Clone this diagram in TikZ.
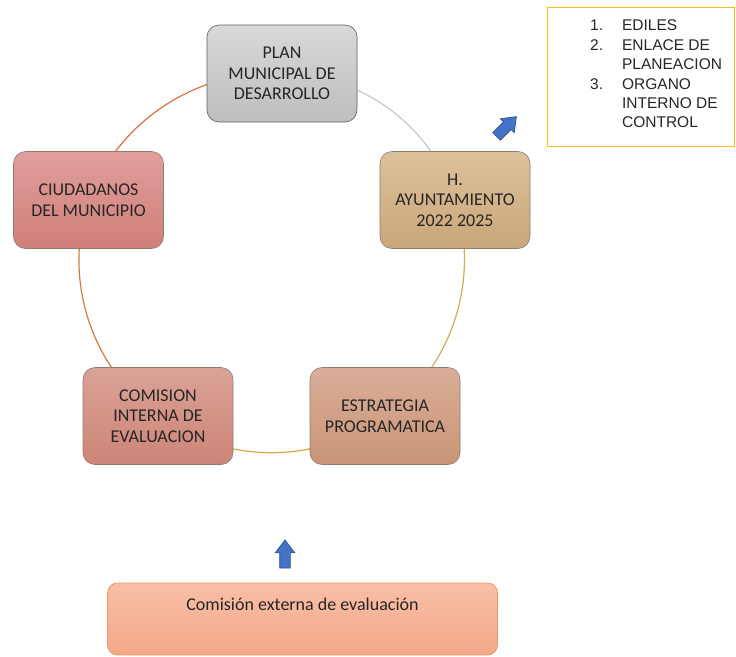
\documentclass[tikz,border=0pt]{standalone}
\usepackage{fontspec}
\setmainfont{Carlito}
\newfontfamily\arialf{Liberation Sans}
\usetikzlibrary{shapes.arrows}
\pgfdeclarelayer{background}
\pgfsetlayers{background,main}
\definecolor{txt}{HTML}{262626}
\definecolor{bluefill}{HTML}{4472C4}
\definecolor{blueline}{HTML}{2F528F}
\definecolor{lgold}{RGB}{250,190,20}
\definecolor{boxline}{RGB}{140,125,115}
\definecolor{planT}{RGB}{216,216,216}\definecolor{planB}{RGB}{190,190,190}
\definecolor{ayunT}{RGB}{221,193,155}\definecolor{ayunB}{RGB}{201,166,121}
\definecolor{estrT}{RGB}{218,174,152}\definecolor{estrB}{RGB}{201,148,118}
\definecolor{comiT}{RGB}{218,162,152}\definecolor{comiB}{RGB}{205,133,118}
\definecolor{ciudT}{RGB}{224,158,155}\definecolor{ciudB}{RGB}{209,127,121}
\definecolor{extT}{RGB}{248,191,166}\definecolor{extB}{RGB}{244,168,138}
\definecolor{extline}{RGB}{240,150,100}
\definecolor{arcA}{RGB}{200,200,200}
\definecolor{arcB}{RGB}{214,170,90}
\definecolor{arcC}{RGB}{216,164,72}
\definecolor{arcD}{RGB}{204,124,66}
\definecolor{arcE}{RGB}{218,114,66}
\tikzset{
  cyclebox/.style={rectangle, rounded corners=12pt, minimum width=150pt, minimum height=97pt,
    draw=boxline, line width=0.6pt, align=center, text=txt, inner sep=2pt,
    font=\fontsize{18}{20.5}\selectfont},
  cyclearc/.style={line width=1.2pt, draw=#1},
  bluearrow/.style={single arrow, draw=blueline, fill=bluefill, line width=0.7pt,
    minimum height=28pt, single arrow head extend=4.5pt,
    single arrow tip angle=75, inner xsep=0pt, inner ysep=5pt},
}
\begin{document}
\begin{tikzpicture}[x=1pt,y=-1pt]
\useasboundingbox (0,0) rectangle (736,656);
% cycle boxes
\node[cyclebox, draw=gray!75!black, top color=planT, bottom color=planB]
  (plan) at (282,73.5) {PLAN\\MUNICIPAL DE\\DESARROLLO};
\node[cyclebox, top color=ayunT, bottom color=ayunB]
  (ayun) at (455,200) {H.\\AYUNTAMIENTO\\2022 2025};
\node[cyclebox, top color=estrT, bottom color=estrB]
  (estr) at (385,416) {ESTRATEGIA\\PROGRAMATICA};
\node[cyclebox, top color=comiT, bottom color=comiB]
  (comi) at (158,416) {COMISION\\INTERNA DE\\EVALUACION};
\node[cyclebox, top color=ciudT, bottom color=ciudB]
  (ciud) at (88.5,200) {CIUDADANOS\\DEL MUNICIPIO};
% cycle arcs (behind the boxes)
\begin{pgfonlayer}{background}
\draw[cyclearc=arcA] (plan.center) to[bend left=36, looseness=0.94] (ayun.center);
\draw[cyclearc=arcB] (ayun.center) to[bend left=36, looseness=0.94] (estr.center);
\draw[cyclearc=arcC] (estr.center) to[bend left=36, looseness=0.94] (comi.center);
\draw[cyclearc=arcD] (comi.center) to[bend left=36, looseness=0.94] (ciud.center);
\draw[cyclearc=arcE] (ciud.center) to[bend left=36, looseness=0.94] (plan.center);
\end{pgfonlayer}
% legend
\node[rectangle, draw=lgold, line width=1.4pt, minimum width=187pt, minimum height=139pt, inner sep=0pt] (legendbox) at (641,77) {};
\node[anchor=north west, inner sep=0pt, text=txt, font=\arialf\fontsize{15.5}{19.4}\selectfont] (legendtext) at (590,17.1)
  {\begin{tabular}{@{}l@{\hspace{19pt}}l@{}}
   1. & EDILES\\
   2. & ENLACE DE\\
      & PLANEACION\\
   3. & ORGANO\\
      & INTERNO DE\\
      & CONTROL
   \end{tabular}};
% blue arrows
\node[bluearrow, rotate=45] (nearrow) at (504,129) {};
\node[bluearrow, rotate=90] (uparrow) at (285,557.5) {};
% external box
\node[rectangle, rounded corners=10pt, draw=extline, line width=0.8pt,
  top color=extT, bottom color=extB,
  minimum width=390pt, minimum height=72pt, inner ysep=0pt, text height=27pt, text depth=45pt,
  text=txt, font=\fontsize{18}{20.5}\selectfont] (ext) at (302.5,619) {Comisión externa de evaluación};
\end{tikzpicture}
\end{document}
